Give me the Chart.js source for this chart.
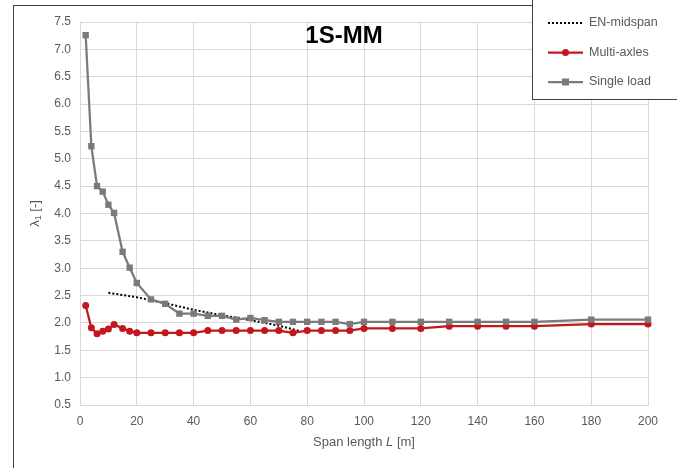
<!DOCTYPE html>
<html>
<head>
<meta charset="utf-8">
<script src="https://cdn.jsdelivr.net/npm/chart.js@4"></script>
<style>
html,body{margin:0;padding:0;background:#fff;}
canvas{display:block;}
</style>
</head>
<body>
<canvas id="c" width="677" height="468"></canvas>
<script>
// ---- data ----
const spans = [2,4,6,8,10,12,15,17.5,20,25,30,35,40,45,50,55,60,65,70,75,80,85,90,95,100,110,120,130,140,150,160,180,200];
const singleLoad = [7.26,5.23,4.50,4.40,4.16,4.01,3.30,3.01,2.73,2.43,2.35,2.17,2.17,2.13,2.13,2.06,2.09,2.05,2.02,2.02,2.02,2.02,2.02,1.98,2.02,2.02,2.02,2.02,2.02,2.02,2.02,2.06,2.06];
const multiAxles = [2.32,1.91,1.80,1.85,1.89,1.97,1.90,1.85,1.82,1.82,1.82,1.82,1.82,1.86,1.86,1.86,1.86,1.86,1.86,1.82,1.86,1.86,1.86,1.86,1.90,1.90,1.90,1.94,1.94,1.94,1.94,1.98,1.98];
const enSpans = [10,20,30,40,50,60,70,77.5];
const enMidspan = [2.55,2.47,2.36,2.24,2.14,2.05,1.95,1.85];
const seriesNames = ['EN-midspan','Multi-axles','Single load'];
const chartTitle = '1S-MM';
const xTicks = [0,20,40,60,80,100,120,140,160,180,200];
const yTicks = [0.5,1.0,1.5,2.0,2.5,3.0,3.5,4.0,4.5,5.0,5.5,6.0,6.5,7.0,7.5];

const GRAY = '#7a7a7a';
const RED = '#c3161f';
const TXT = '#595959';
const FONT = '"Liberation Sans", Arial, sans-serif';

const pts = (xs, ys) => xs.map((x, i) => ({x: x, y: ys[i]}));

const decor = {
  id: 'decor',
  beforeDraw(chart) {
    const ctx = chart.ctx;
    ctx.save();
    ctx.fillStyle = '#fff';
    ctx.fillRect(0, 0, chart.width, chart.height);
    ctx.restore();
  },
  afterDraw(chart) {
    const ctx = chart.ctx;
    const a = chart.chartArea;
    ctx.save();
    // outer frame
    ctx.strokeStyle = '#404040';
    ctx.lineWidth = 1;
    ctx.strokeRect(13.5, 5.5, 700, 500);
    // title
    ctx.fillStyle = '#000';
    ctx.font = 'bold 24px ' + FONT;
    ctx.textAlign = 'center';
    ctx.textBaseline = 'middle';
    ctx.fillText(chartTitle, 344, 36);
    // x axis title with italic L
    ctx.fillStyle = TXT;
    ctx.textBaseline = 'middle';
    const p1 = 'Span length ', p2 = 'L', p3 = ' [m]';
    const fN = '13px ' + FONT, fI = 'italic 13px ' + FONT;
    ctx.font = fN; const w1 = ctx.measureText(p1).width, w3 = ctx.measureText(p3).width;
    ctx.font = fI; const w2 = ctx.measureText(p2).width;
    let x0 = (a.left + a.right) / 2 - (w1 + w2 + w3) / 2;
    const yT = 442;
    ctx.textAlign = 'left';
    ctx.font = fN; ctx.fillText(p1, x0, yT);
    ctx.font = fI; ctx.fillText(p2, x0 + w1, yT);
    ctx.font = fN; ctx.fillText(p3, x0 + w1 + w2, yT);
    // y axis title λ1 [-]
    ctx.save();
    ctx.translate(35, (a.top + a.bottom) / 2);
    ctx.rotate(-Math.PI / 2);
    const q1 = 'λ', q2 = '1', q3 = ' [-]';
    ctx.font = fN; const v1 = ctx.measureText(q1).width, v3 = ctx.measureText(q3).width;
    ctx.font = '9px ' + FONT; const v2 = ctx.measureText(q2).width;
    let s0 = -(v1 + v2 + v3) / 2;
    ctx.font = fN; ctx.fillText(q1, s0, 0);
    ctx.font = '9px ' + FONT; ctx.fillText(q2, s0 + v1, 4);
    ctx.font = fN; ctx.fillText(q3, s0 + v1 + v2, 0);
    ctx.restore();
    // legend box
    ctx.fillStyle = '#fff';
    ctx.fillRect(532.5, -1, 200, 100.5);
    ctx.strokeStyle = '#404040';
    ctx.strokeRect(532.5, -1, 200, 100.5);
    const rows = [23, 52.5, 82];
    const lx0 = 548, lx1 = 583, tx = 589;
    ctx.font = '12.5px ' + FONT;
    ctx.textAlign = 'left';
    ctx.textBaseline = 'middle';
    // EN dotted
    ctx.strokeStyle = '#000';
    ctx.lineWidth = 2;
    ctx.setLineDash([2, 2]);
    ctx.beginPath(); ctx.moveTo(lx0, rows[0]); ctx.lineTo(lx1, rows[0]); ctx.stroke();
    ctx.setLineDash([]);
    // Multi-axles
    ctx.strokeStyle = RED; ctx.lineWidth = 2.25;
    ctx.beginPath(); ctx.moveTo(lx0, rows[1]); ctx.lineTo(lx1, rows[1]); ctx.stroke();
    ctx.fillStyle = RED;
    ctx.beginPath(); ctx.arc((lx0 + lx1) / 2, rows[1], 3.5, 0, Math.PI * 2); ctx.fill();
    // Single load
    ctx.strokeStyle = GRAY; ctx.lineWidth = 2.25;
    ctx.beginPath(); ctx.moveTo(lx0, rows[2]); ctx.lineTo(lx1, rows[2]); ctx.stroke();
    ctx.fillStyle = GRAY;
    ctx.fillRect((lx0 + lx1) / 2 - 3.5, rows[2] - 3.5, 7, 7);
    ctx.fillStyle = TXT;
    seriesNames.forEach((n, i) => ctx.fillText(n, tx, rows[i]));
    ctx.restore();
  }
};

new Chart(document.getElementById('c'), {
  type: 'line',
  data: {
    datasets: [
      {
        label: seriesNames[0],
        data: pts(enSpans, enMidspan),
        borderColor: '#000',
        borderWidth: 2,
        borderDash: [2, 2],
        pointRadius: 0,
        fill: false,
        order: 3
      },
      {
        label: seriesNames[1],
        data: pts(spans, multiAxles),
        borderColor: RED,
        backgroundColor: RED,
        borderWidth: 2.25,
        pointStyle: 'circle',
        pointRadius: 3.5,
        pointBorderWidth: 0,
        fill: false,
        order: 2
      },
      {
        label: seriesNames[2],
        data: pts(spans, singleLoad),
        borderColor: GRAY,
        backgroundColor: GRAY,
        borderWidth: 2.25,
        pointStyle: 'rect',
        pointRadius: 4.5,
        pointBorderWidth: 0,
        fill: false,
        order: 1
      }
    ]
  },
  options: {
    responsive: false,
    animation: false,
    devicePixelRatio: 1,
    clip: false,
    layout: { padding: { left: 20, right: 29, top: 22, bottom: 0 } },
    plugins: {
      legend: { display: false },
      title: { display: false },
      tooltip: { enabled: false }
    },
    scales: {
      x: {
        type: 'linear',
        min: 0, max: 200,
        afterBuildTicks: s => { s.ticks = xTicks.map(v => ({value: v})); },
        afterFit: s => { s.height = 63; },
        grid: { color: '#d9d9d9', lineWidth: 1, drawTicks: false },
        border: { color: '#d9d9d9' },
        ticks: { color: TXT, font: { family: FONT, size: 12 }, padding: 9, maxRotation: 0 }
      },
      y: {
        type: 'linear',
        min: 0.5, max: 7.5,
        afterBuildTicks: s => { s.ticks = yTicks.map(v => ({value: v})); },
        afterFit: s => { s.width = 60; },
        grid: { color: '#d9d9d9', lineWidth: 1, drawTicks: false },
        border: { color: '#d9d9d9' },
        ticks: { color: TXT, font: { family: FONT, size: 12 }, padding: 9, callback: v => Number(v).toFixed(1) }
      }
    }
  },
  plugins: [decor]
});
</script>
</body>
</html>
